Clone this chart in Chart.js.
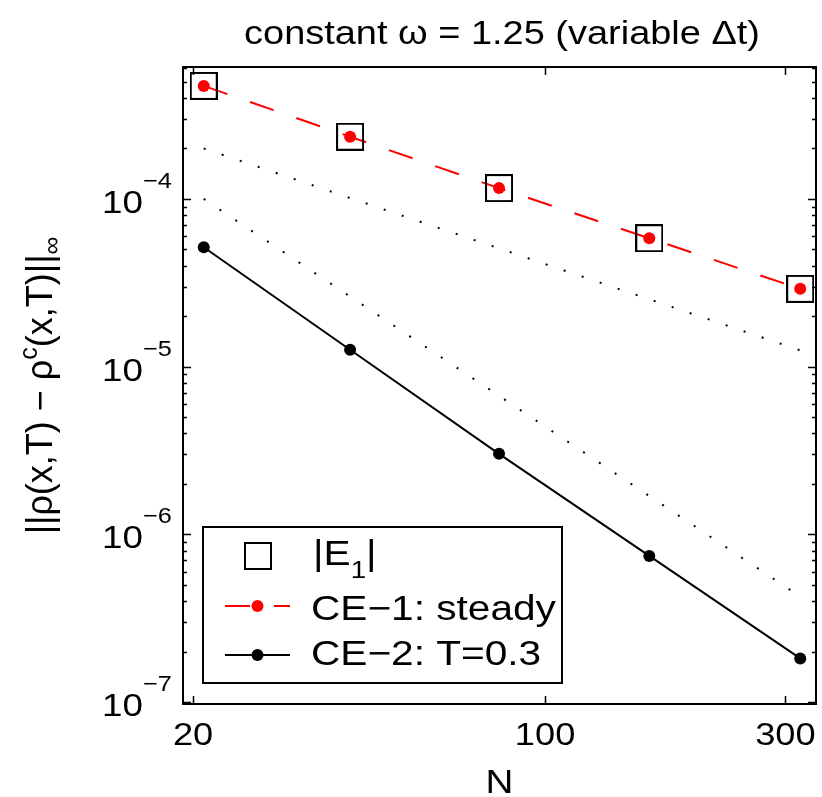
<!DOCTYPE html>
<html>
<head>
<meta charset="utf-8">
<script src="https://cdn.jsdelivr.net/npm/chart.js@4.4.1/dist/chart.umd.min.js"></script>
<style>
  html, body { margin: 0; padding: 0; background: #fff; }
  canvas { display: block; }
</style>
</head>
<body>
<canvas id="convChart" width="822" height="797"></canvas>
<script>
// Valeurs
const nValues = [21, 41, 81, 161, 321];
const e1Values = [4.72e-4, 2.35e-4, 1.16e-4, 5.83e-5, 2.91e-5];
const ce1Values = [4.72e-4, 2.35e-4, 1.16e-4, 5.83e-5, 2.91e-5];
const ce2Values = [5.15e-5, 1.26e-5, 3.02e-6, 7.43e-7, 1.82e-7];

// droites de référence (pointillés)
const refN = [21, 321];
const refOrder1 = [2.0e-4, 1.25e-5];
const refOrder2 = [1.0e-4, 4.25e-7];

const xTickValues = [20, 100, 300];
const xTickLabels = ['20', '100', '300'];
const yTickValues = [1e-7, 1e-6, 1e-5, 1e-4];
const yTickExponents = ['\u22127', '\u22126', '\u22125', '\u22124'];

const titleText = 'constant \u03c9 = 1.25 (variable \u0394t)';
const xLabelText = 'N';
const legendLabels = ['|E', 'CE\u22121: steady', 'CE\u22122: T=0.3'];

const FONT = '"Liberation Sans", Arial, Helvetica, sans-serif';

function toPoints(xs, ys) {
    return xs.map((x, i) => ({ x: x, y: ys[i] }));
}

// marqueur carré vide (dessiné à sa taille propre, sans agrandir les marges du graphique)
function makeSquare(side, lw) {
    const c = document.createElement('canvas');
    c.width = side;
    c.height = side;
    const g = c.getContext('2d');
    g.strokeStyle = '#000';
    g.lineWidth = lw;
    g.strokeRect(lw / 2, lw / 2, side - lw, side - lw);
    return c;
}
const squareMarker = makeSquare(28, 2);

// texte légèrement étiré horizontalement, comme sur l'original
function drawText(ctx, text, x, y, size, sx, align) {
    ctx.save();
    ctx.translate(x, y);
    ctx.scale(sx, 1);
    ctx.font = size + 'px ' + FONT;
    ctx.textAlign = align || 'left';
    ctx.textBaseline = 'alphabetic';
    ctx.fillStyle = '#000';
    ctx.fillText(text, 0, 0);
    const w = ctx.measureText(text).width * sx;
    ctx.restore();
    return w;
}

const decorPlugin = {
    id: 'decor',
    afterDraw(chart) {
        const ctx = chart.ctx;
        const area = chart.chartArea;
        const xs = chart.scales.x;
        const ys = chart.scales.y;

        ctx.save();
        ctx.strokeStyle = '#000';
        ctx.lineWidth = 2;
        ctx.strokeRect(area.left, area.top, area.right - area.left, area.bottom - area.top);

        // graduations y (majeures + mineures), vers l'intérieur
        ctx.lineWidth = 1.5;
        for (let e = -8; e <= -3; e++) {
            for (let m = 1; m <= 9; m++) {
                const v = m * Math.pow(10, e);
                if (v < ys.min || v > ys.max) continue;
                const py = Math.round(ys.getPixelForValue(v)) + 0.5;
                const len = m === 1 ? 8 : 4;
                ctx.beginPath();
                ctx.moveTo(area.left, py); ctx.lineTo(area.left + len, py);
                ctx.moveTo(area.right, py); ctx.lineTo(area.right - len, py);
                ctx.stroke();
            }
        }
        // graduations x
        xTickValues.forEach(v => {
            const px = Math.round(xs.getPixelForValue(v)) + 0.5;
            ctx.beginPath();
            ctx.moveTo(px, area.bottom); ctx.lineTo(px, area.bottom - 8);
            ctx.moveTo(px, area.top); ctx.lineTo(px, area.top + 8);
            ctx.stroke();
        });

        // étiquettes x
        xTickValues.forEach((v, i) => {
            drawText(ctx, xTickLabels[i], xs.getPixelForValue(v), 745, 31, 1.17, 'center');
        });
        // étiquettes y : 10 puissance
        yTickValues.forEach((v, i) => {
            const py = ys.getPixelForValue(v);
            drawText(ctx, '10', 143, py + 14, 32, 1.15, 'right');
            drawText(ctx, yTickExponents[i], 143, py - 11, 22, 1.15, 'left');
        });

        // titre et axe x
        drawText(ctx, titleText, 502, 44, 33, 1.15, 'center');
        drawText(ctx, xLabelText, (area.left + area.right) / 2, 793, 33, 1.17, 'center');

        // axe y (texte tourné)
        ctx.save();
        ctx.translate(52, (area.top + area.bottom) / 2);
        ctx.rotate(-Math.PI / 2);
        ctx.fillStyle = '#000';
        ctx.textBaseline = 'alphabetic';
        const parts = [
            { t: '||\u03c1(x,T) \u2212 \u03c1', s: 36, dy: 0 },
            { t: 'c', s: 25, dy: -15 },
            { t: '(x,T)||', s: 36, dy: 0 },
            { t: '\u221e', s: 25, dy: 8 }
        ];
        let total = 0;
        parts.forEach(p => { ctx.font = p.s + 'px ' + FONT; p.w = ctx.measureText(p.t).width; total += p.w; });
        let cx = -total / 2;
        parts.forEach(p => {
            ctx.font = p.s + 'px ' + FONT;
            ctx.fillText(p.t, cx, p.dy);
            cx += p.w;
        });
        ctx.restore();

        // légende
        const lx = 203, ly = 527, lw = 359, lh = 156;
        ctx.fillStyle = '#fff';
        ctx.fillRect(lx, ly, lw, lh);
        ctx.lineWidth = 2;
        ctx.strokeStyle = '#000';
        ctx.strokeRect(lx, ly, lw, lh);

        const dsE1 = chart.data.datasets[0];
        const dsCe1 = chart.data.datasets[1];
        const dsCe2 = chart.data.datasets[2];

        // entrée |E1|
        const sq = dsE1.pointStyle;
        ctx.drawImage(sq, Math.round(257.5 - sq.width / 2), Math.round(556 - sq.height / 2));
        let tx = 313;
        tx += drawText(ctx, legendLabels[0], tx, 565, 35, 1.16, 'left');
        tx += drawText(ctx, '1', tx, 578, 24, 1.16, 'left');
        drawText(ctx, '|', tx, 565, 35, 1.16, 'left');

        // entrées lignes
        [[dsCe1, 606, legendLabels[1], 620], [dsCe2, 655, legendLabels[2], 665]].forEach(([ds, y, label, base]) => {
            ctx.save();
            ctx.strokeStyle = ds.borderColor;
            ctx.lineWidth = ds.borderWidth;
            ctx.setLineDash(ds.borderDash || []);
            ctx.beginPath();
            ctx.moveTo(225, y); ctx.lineTo(290, y);
            ctx.stroke();
            ctx.setLineDash([]);
            ctx.fillStyle = ds.pointBackgroundColor;
            ctx.beginPath();
            ctx.arc(257.5, y, ds.pointRadius, 0, Math.PI * 2);
            ctx.fill();
            ctx.restore();
            drawText(ctx, label, 311, base, 35, 1.16, 'left');
        });

        ctx.restore();
    }
};

new Chart(document.getElementById('convChart'), {
    type: 'scatter',
    data: {
        datasets: [
            {
                label: '|E1|',
                data: toPoints(nValues, e1Values),
                showLine: false,
                pointStyle: squareMarker,
                pointRadius: 3,
                borderWidth: 0,
                pointBorderWidth: 0,
                order: 1
            },
            {
                label: 'CE-1: steady',
                data: toPoints(nValues, ce1Values),
                showLine: true,
                borderColor: '#ff0000',
                borderWidth: 2,
                borderDash: [25, 24],
                pointRadius: 6,
                pointBackgroundColor: '#ff0000',
                pointBorderColor: '#ff0000',
                pointBorderWidth: 0,
                order: 2
            },
            {
                label: 'CE-2: T=0.3',
                data: toPoints(nValues, ce2Values),
                showLine: true,
                borderColor: '#000',
                borderWidth: 2,
                pointRadius: 6,
                pointBackgroundColor: '#000',
                pointBorderColor: '#000',
                pointBorderWidth: 0,
                order: 3
            },
            {
                label: 'ordre 1',
                data: toPoints(refN, refOrder1),
                showLine: true,
                borderColor: '#000',
                borderWidth: 2,
                borderDash: [2, 17],
                pointRadius: 0,
                order: 4
            },
            {
                label: 'ordre 2',
                data: toPoints(refN, refOrder2),
                showLine: true,
                borderColor: '#000',
                borderWidth: 2,
                borderDash: [2, 17],
                pointRadius: 0,
                order: 5
            }
        ]
    },
    options: {
        responsive: false,
        devicePixelRatio: 1,
        animation: false,
        events: [],
        layout: { padding: { top: 67, right: 6, left: 0, bottom: 0 } },
        plugins: {
            legend: { display: false },
            title: { display: false },
            tooltip: { enabled: false }
        },
        scales: {
            x: {
                type: 'logarithmic',
                min: 19.1,
                max: 345,
                ticks: { display: false },
                grid: { display: false },
                border: { display: false },
                afterFit(scale) { scale.height = 93; }
            },
            y: {
                type: 'logarithmic',
                min: 0.973e-7,
                max: 6.12e-4,
                ticks: { display: false },
                grid: { display: false },
                border: { display: false },
                afterFit(scale) { scale.width = 183; }
            }
        }
    },
    plugins: [decorPlugin]
});
</script>
</body>
</html>
